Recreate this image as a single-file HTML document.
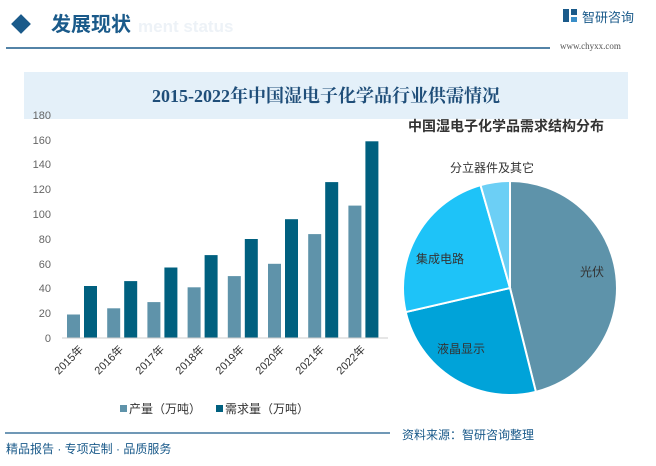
<!DOCTYPE html>
<html><head><meta charset="utf-8"><style>
body{margin:0;width:656px;height:461px;background:#fff;overflow:hidden;font-family:"Liberation Sans","Noto Sans CJK SC",sans-serif;}
</style></head><body>
<svg width="656" height="461" viewBox="0 0 656 461" xmlns="http://www.w3.org/2000/svg" font-family="Liberation Sans, Noto Sans CJK SC, sans-serif">
<text x="138" y="32" font-size="17" fill="#edf2f7" font-weight="bold">ment status</text>
<rect x="14" y="17" width="14" height="14" fill="#1a5a8a" transform="rotate(45 21 24)"/>
<text x="51" y="31" font-size="20" fill="#1a5a8a" font-weight="bold">发展现状</text>
<line x1="6" y1="48" x2="550" y2="48" stroke="#1a5a8a" stroke-width="1.5"/>
<rect x="563" y="9" width="6" height="13" fill="#1a5a8a"/><rect x="571" y="9" width="6" height="6" fill="#1a5a8a"/><rect x="571" y="17" width="6" height="5" fill="#3a8ec8"/>
<text x="582" y="22" font-size="13" fill="#1a5a8a">智研咨询</text>
<text x="560" y="49" font-size="9" fill="#555" font-family="Liberation Serif, serif">www.chyxx.com</text>
<rect x="24" y="72" width="604" height="47" fill="#e4f0f9"/>
<text x="326" y="102" font-size="18" fill="#1f4e79" font-weight="bold" text-anchor="middle" font-family="Liberation Serif, Noto Serif CJK SC, serif">2015-2022年中国湿电子化学品行业供需情况</text>
<g font-size="11" fill="#666" text-anchor="end">
<text x="51" y="342">0</text><text x="51" y="317">20</text><text x="51" y="292">40</text><text x="51" y="268">60</text><text x="51" y="243">80</text><text x="51" y="218">100</text><text x="51" y="193">120</text><text x="51" y="168">140</text><text x="51" y="144">160</text><text x="51" y="119">180</text>
</g>
<g fill="#5f93aa">
<rect x="67" y="314.5" width="13" height="23.5"/>
<rect x="107.2" y="308.3" width="13" height="29.7"/>
<rect x="147.4" y="302.1" width="13" height="35.9"/>
<rect x="187.6" y="287.3" width="13" height="50.7"/>
<rect x="227.8" y="276.1" width="13" height="61.9"/>
<rect x="268" y="263.8" width="13" height="74.2"/>
<rect x="308.2" y="234.1" width="13" height="103.9"/>
<rect x="348.4" y="205.6" width="13" height="132.4"/>
</g>
<g fill="#00607f">
<rect x="84" y="286" width="13" height="52"/>
<rect x="124.2" y="281.1" width="13" height="56.9"/>
<rect x="164.4" y="267.5" width="13" height="70.5"/>
<rect x="204.6" y="255.1" width="13" height="82.9"/>
<rect x="244.8" y="239" width="13" height="99"/>
<rect x="285" y="219.2" width="13" height="118.8"/>
<rect x="325.2" y="182.1" width="13" height="155.9"/>
<rect x="365.4" y="141.3" width="13" height="196.7"/>
</g>
<line x1="62" y1="338" x2="388" y2="338" stroke="#ccc"/>
<g font-size="11" fill="#333">
<text transform="translate(84,350) rotate(-45)" text-anchor="end">2015年</text>
<text transform="translate(124,350) rotate(-45)" text-anchor="end">2016年</text>
<text transform="translate(165,350) rotate(-45)" text-anchor="end">2017年</text>
<text transform="translate(205,350) rotate(-45)" text-anchor="end">2018年</text>
<text transform="translate(245,350) rotate(-45)" text-anchor="end">2019年</text>
<text transform="translate(285,350) rotate(-45)" text-anchor="end">2020年</text>
<text transform="translate(325,350) rotate(-45)" text-anchor="end">2021年</text>
<text transform="translate(366,350) rotate(-45)" text-anchor="end">2022年</text>
</g>
<rect x="120" y="405" width="7" height="7" fill="#5f93aa"/><text x="129" y="413" font-size="12" fill="#333">产量（万吨）</text>
<rect x="216" y="405" width="7" height="7" fill="#00607f"/><text x="225" y="413" font-size="12" fill="#333">需求量（万吨）</text>
<text x="408" y="131" font-size="14" font-weight="bold" fill="#333">中国湿电子化学品需求结构分布</text>
<g stroke="#fff" stroke-width="2">
<path d="M510 288 L510 181 A107 107 0 0 1 535.88 391.82 Z" fill="#5e93aa"/>
<path d="M510 288 L535.88 391.82 A107 107 0 0 1 405.74 312.07 Z" fill="#00a3d9"/>
<path d="M510 288 L405.74 312.07 A107 107 0 0 1 480.51 185.14 Z" fill="#1ec3f8"/>
<path d="M510 288 L480.51 185.14 A107 107 0 0 1 510 181 Z" fill="#6ccff5"/>
</g>
<g font-size="12" fill="#333">
<text x="492" y="172" text-anchor="middle">分立器件及其它</text>
<text x="416" y="263">集成电路</text>
<text x="580" y="276">光伏</text>
<text x="437" y="353">液晶显示</text>
</g>
<line x1="5" y1="433" x2="390" y2="433" stroke="#1a5a8a" stroke-width="1.2"/>
<text x="402" y="439" font-size="12" fill="#1a5a8a">资料来源：智研咨询整理</text>
<text x="6" y="453" font-size="12" fill="#1a5a8a">精品报告 · 专项定制 · 品质服务</text>
</svg>
</body></html>
